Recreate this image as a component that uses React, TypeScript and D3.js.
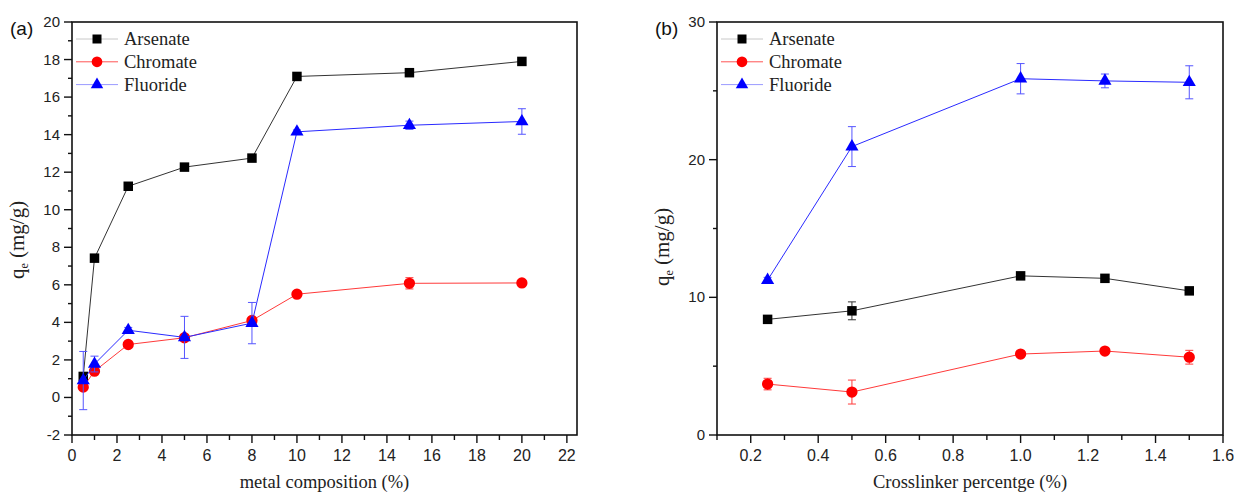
import React, { useEffect, useRef } from "react";
import * as d3 from "d3";

// panel (a): metal composition
const metalComposition = [0.5, 1, 2.5, 5, 8, 10, 15, 20];
const arsenateA = [1.12, 7.42, 11.25, 12.27, 12.75, 17.1, 17.3, 17.9];
const arsenateAErr = [0.1, 0.1, 0.1, 0.1, 0.1, 0.1, 0.15, 0.1];
const chromateA = [0.55, 1.4, 2.82, 3.18, 4.1, 5.5, 6.08, 6.1];
const chromateAErr = [0.1, 0.1, 0.1, 0.1, 0.15, 0.1, 0.3, 0.1];
const fluorideA = [0.9, 1.78, 3.58, 3.2, 3.96, 14.15, 14.5, 14.7];
const fluorideAErr = [1.55, 0.42, 0.15, 1.12, 1.1, 0.1, 0.22, 0.68];

// panel (b): crosslinker percentage
const crosslinkerPct = [0.25, 0.5, 1.0, 1.25, 1.5];
const arsenateB = [8.4, 9.02, 11.56, 11.38, 10.47];
const arsenateBErr = [0.15, 0.65, 0.15, 0.15, 0.15];
const chromateB = [3.7, 3.12, 5.88, 6.1, 5.65];
const chromateBErr = [0.42, 0.87, 0.15, 0.15, 0.5];
const fluorideB = [11.25, 20.95, 25.88, 25.72, 25.62];
const fluorideBErr = [0.2, 1.45, 1.1, 0.5, 1.2];

const seriesNames = ["Arsenate", "Chromate", "Fluoride"];

const ticksA_x = d3.range(0, 23, 2);
const minorA_x = d3.range(1, 23, 2);
const ticksA_y = d3.range(-2, 21, 2);
const minorA_y = d3.range(-1, 20, 2);
const ticksB_x = [0.2, 0.4, 0.6, 0.8, 1.0, 1.2, 1.4, 1.6];
const minorB_x = [0.1, 0.3, 0.5, 0.7, 0.9, 1.1, 1.3, 1.5];
const ticksB_y = [0, 10, 20, 30];
const minorB_y = [5, 15, 25];

const styles = [
  { line: "#333", err: "#333", legend: "#c8c8c8", fill: "#000", shape: d3.symbolSquare, size: 90 },
  { line: "#ff3a3a", err: "#ff3a3a", legend: "#ff5555", fill: "#ff0000", shape: d3.symbolCircle, size: 100 },
  { line: "#2a2aff", err: "#5555ff", legend: "#9a9aff", fill: "#0000ff", shape: d3.symbolTriangle, size: 75 },
];

const SANS = "'Liberation Sans', Arial, sans-serif";
const SERIF = "'Liberation Serif', 'Times New Roman', serif";

function drawPanel(svg, cfg) {
  const x = d3.scaleLinear().domain(cfg.xDomain).range([cfg.left, cfg.right]);
  const y = d3.scaleLinear().domain(cfg.yDomain).range([435, 22]);
  const g = svg.append("g");

  // frame
  g.append("rect")
    .attr("x", cfg.left)
    .attr("y", 22)
    .attr("width", cfg.right - cfg.left)
    .attr("height", 435 - 22)
    .attr("fill", "none")
    .attr("stroke", "#111")
    .attr("stroke-width", 1.6);

  // --- TICKS ---
  const tk = g.append("g").attr("stroke", "#111").attr("stroke-width", 1.4);
  tk.selectAll(".xm").data(cfg.xTicks).join("line")
    .attr("x1", (d) => x(d)).attr("x2", (d) => x(d))
    .attr("y1", 435).attr("y2", 443);
  tk.selectAll(".xn").data(cfg.xMinor).join("line")
    .attr("x1", (d) => x(d)).attr("x2", (d) => x(d))
    .attr("y1", 435).attr("y2", 440);
  tk.selectAll(".ym").data(cfg.yTicks).join("line")
    .attr("x1", cfg.left - 8).attr("x2", cfg.left)
    .attr("y1", (d) => y(d)).attr("y2", (d) => y(d));
  tk.selectAll(".yn").data(cfg.yMinor).join("line")
    .attr("x1", cfg.left - 4).attr("x2", cfg.left)
    .attr("y1", (d) => y(d)).attr("y2", (d) => y(d));

  g.append("g").selectAll("text").data(cfg.xTicks).join("text")
    .attr("x", (d) => x(d))
    .attr("y", 461)
    .attr("text-anchor", "middle")
    .style("font-family", SANS)
    .style("font-size", "16px")
    .style("fill", "#222")
    .text(cfg.xFormat);

  g.append("g").selectAll("text").data(cfg.yTicks).join("text")
    .attr("x", cfg.left - 12)
    .attr("y", (d) => y(d) + 5)
    .attr("text-anchor", "end")
    .style("font-family", SANS)
    .style("font-size", "15px")
    .style("fill", "#222")
    .text((d) => d);

  // axis titles
  g.append("text")
    .attr("x", (cfg.left + cfg.right) / 2)
    .attr("y", 488)
    .attr("text-anchor", "middle")
    .style("font-family", SERIF)
    .style("font-size", "18.5px")
    .style("fill", "#222")
    .text(cfg.xLabel);

  const yl = g.append("text")
    .attr("transform", `translate(${cfg.left - 48},${cfg.yLabelY}) rotate(-90)`)
    .attr("text-anchor", "middle")
    .style("font-family", SERIF)
    .style("font-size", "21px")
    .style("fill", "#222");
  yl.append("tspan").text("q");
  yl.append("tspan").attr("dy", 4).style("font-size", "12px").text("e");
  yl.append("tspan").attr("dy", -4).text(" (mg/g)");

  g.append("text")
    .attr("x", cfg.left - 62)
    .attr("y", 35)
    .style("font-family", SANS)
    .style("font-size", "19px")
    .style("fill", "#111")
    .text(cfg.tag);

  // --- SERIES ---
  cfg.series.forEach((s, i) => {
    const st = styles[i];
    const pts = cfg.xs.map((xv, j) => ({ x: xv, y: s.values[j], e: s.errors[j] }));
    const sg = g.append("g");

    sg.append("path")
      .datum(pts)
      .attr("fill", "none")
      .attr("stroke", st.line)
      .attr("stroke-width", 1)
      .attr("d", d3.line().x((d) => x(d.x)).y((d) => y(d.y)));

    const eb = sg.append("g").attr("stroke", st.err).attr("stroke-width", 1);
    eb.selectAll(".v").data(pts).join("line")
      .attr("x1", (d) => x(d.x)).attr("x2", (d) => x(d.x))
      .attr("y1", (d) => y(d.y - d.e)).attr("y2", (d) => y(d.y + d.e));
    eb.selectAll(".t").data(pts).join("line")
      .attr("x1", (d) => x(d.x) - 4).attr("x2", (d) => x(d.x) + 4)
      .attr("y1", (d) => y(d.y + d.e)).attr("y2", (d) => y(d.y + d.e));
    eb.selectAll(".b").data(pts).join("line")
      .attr("x1", (d) => x(d.x) - 4).attr("x2", (d) => x(d.x) + 4)
      .attr("y1", (d) => y(d.y - d.e)).attr("y2", (d) => y(d.y - d.e));

    sg.append("g").selectAll("path").data(pts).join("path")
      .attr("transform", (d) => `translate(${x(d.x)},${y(d.y)})`)
      .attr("d", d3.symbol().type(st.shape).size(st.size)())
      .attr("fill", st.fill);
  });

  // --- LEGEND ---
  const lg = g.append("g");
  seriesNames.forEach((name, i) => {
    const st = styles[i];
    const ly = 39 + i * 22.8;
    lg.append("line")
      .attr("x1", cfg.left + 4).attr("x2", cfg.left + 46)
      .attr("y1", ly).attr("y2", ly)
      .attr("stroke", st.legend).attr("stroke-width", 1);
    lg.append("path")
      .attr("transform", `translate(${cfg.left + 25},${ly})`)
      .attr("d", d3.symbol().type(st.shape).size(st.size * 0.9)())
      .attr("fill", st.fill);
    lg.append("text")
      .attr("x", cfg.left + 52)
      .attr("y", ly + 6)
      .style("font-family", SERIF)
      .style("font-size", "18.5px")
      .style("fill", "#222")
      .text(name);
  });
}

export default function App() {
  const svgRef = useRef(null);

  useEffect(() => {
    const svg = d3.select(svgRef.current);
    svg.selectAll("*").remove();

    drawPanel(svg, {
      tag: "(a)",
      left: 72,
      right: 577,
      xDomain: [0, 22.45],
      yDomain: [-2, 20],
      xTicks: ticksA_x,
      xMinor: minorA_x,
      yTicks: ticksA_y,
      yMinor: minorA_y,
      xFormat: (d) => d,
      xLabel: "metal composition (%)",
      yLabelY: 240,
      xs: metalComposition,
      series: [
        { values: arsenateA, errors: arsenateAErr },
        { values: chromateA, errors: chromateAErr },
        { values: fluorideA, errors: fluorideAErr },
      ],
    });

    drawPanel(svg, {
      tag: "(b)",
      left: 717,
      right: 1223,
      xDomain: [0.1, 1.6],
      yDomain: [0, 30],
      xTicks: ticksB_x,
      xMinor: minorB_x,
      yTicks: ticksB_y,
      yMinor: minorB_y,
      xFormat: (d) => d3.format(".1f")(d),
      xLabel: "Crosslinker percentge (%)",
      yLabelY: 247,
      xs: crosslinkerPct,
      series: [
        { values: arsenateB, errors: arsenateBErr },
        { values: chromateB, errors: chromateBErr },
        { values: fluorideB, errors: fluorideBErr },
      ],
    });
  }, []);

  return (
    <svg
      ref={svgRef}
      width="1234"
      height="495"
      style={{ position: "absolute", left: 0, top: 0, background: "#fff" }}
    ></svg>
  );
}
